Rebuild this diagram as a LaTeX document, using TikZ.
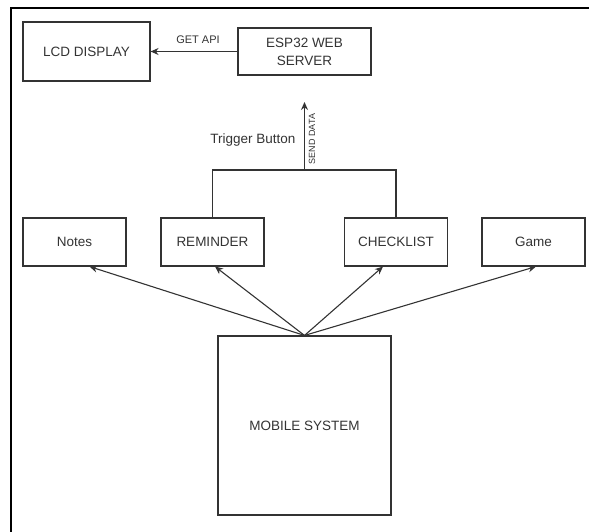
\documentclass[tikz,border=0pt]{standalone}
\usepackage{fontspec}
\setmainfont{Liberation Sans}
\usepackage{xcolor}
\usetikzlibrary{arrows.meta}
\definecolor{linegray}{HTML}{333333}

\begin{document}
\begin{tikzpicture}[x=1pt,y=-1pt,
    block/.style={draw=linegray,line width=1.1pt,inner sep=0pt,align=center,text=linegray,font=\fontsize{13.5}{18}\selectfont},
    appbox/.style={block,minimum width=103pt,minimum height=48pt},
    conn/.style={draw=linegray,line width=1.1pt,-{Stealth[length=8pt,width=7pt]}},
    tag/.style={text=linegray,inner sep=0pt}]
    \useasboundingbox (0,0) rectangle (589,532);
    \draw[line width=2pt] (10.5,532) -- (10.5,8.5) -- (589,8.5);
    \node[block,minimum width=127pt,minimum height=59pt] (lcd) at (86.5,51.5) {LCD DISPLAY};
    \node[block,minimum width=133pt,minimum height=47pt] (esp) at (304.5,51.5) {ESP32 WEB\\SERVER};
    \node[appbox] (notes) at (74.5,242) {Notes};
    \node[appbox] (reminder) at (212.5,242) {REMINDER};
    \node[appbox] (checklist) at (396,242) {CHECKLIST};
    \node[appbox] (game) at (533.5,242) {Game};
    \node[block,minimum width=173pt,minimum height=179pt] (mobile) at (304.5,425.5) {MOBILE SYSTEM};
    \coordinate (split) at (304.5,170);
    \coordinate (sendtip) at (304.5,102);
    \draw[conn] (esp.west) -- (lcd.east);
    \node[tag,font=\fontsize{11}{13}\selectfont] (getapi) at (198,40) {GET API};
    \draw[draw=linegray,line width=1.1pt] (reminder.north) |- (split) -| (checklist.north);
    \draw[conn] (split) -- (sendtip);
    \node[tag,font=\fontsize{9}{11}\selectfont,rotate=90] (senddata) at (312,139) {SEND DATA};
    \node[tag,font=\fontsize{13.5}{16}\selectfont] (trigger) at (253,140.5) {Trigger Button};
    \draw[conn] (mobile.north) -- ([xshift=15pt]notes.south);
    \draw[conn] (mobile.north) -- ([xshift=2.5pt]reminder.south);
    \draw[conn] (mobile.north) -- ([xshift=-13pt]checklist.south);
    \draw[conn] (mobile.north) -- ([xshift=2.5pt]game.south);
\end{tikzpicture}
\end{document}
